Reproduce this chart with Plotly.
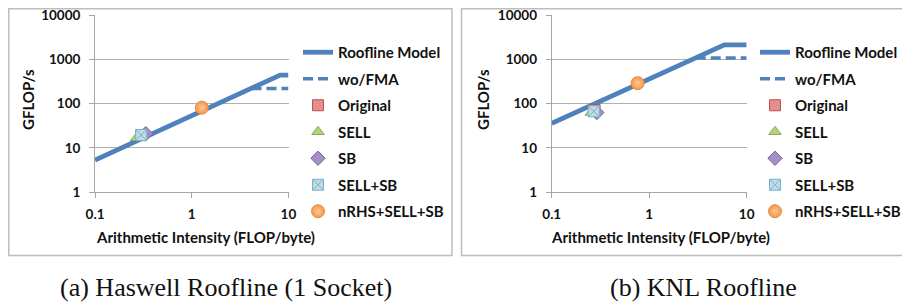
import plotly.graph_objects as go

# ---------------- data ----------------
# Haswell (1 socket)
hsw_roof_x = [0.1, 8.2, 10]
hsw_roof_y = [5.3, 440, 440]
hsw_nofma_x = [4.15, 10]
hsw_nofma_y = [220, 220]
hsw_orig = (0.30, 19.5)
hsw_sell = (0.27, 17)
hsw_sb = (0.335, 21)
hsw_sellsb = (0.30, 19.5)
hsw_nrhs = (1.27, 81)

# KNL
knl_roof_x = [0.1, 5.9, 10]
knl_roof_y = [36, 2130, 2130]
knl_nofma_x = [3.0, 10]
knl_nofma_y = [1070, 1070]
knl_orig = (0.275, 72)
knl_sell = (0.255, 63)
knl_sb = (0.29, 63)
knl_sellsb = (0.27, 67)
knl_nrhs = (0.76, 290)

series_names = ["Roofline Model", "wo/FMA", "Original", "SELL", "SB", "SELL+SB", "nRHS+SELL+SB"]
x_ticks = [0.1, 1, 10]
x_tick_text = ["0.1", "1", "10"]
y_ticks = [1, 10, 100, 1000, 10000]
y_tick_text = ["1", "10", "100", "1000", "10000"]
captions = ["(a) Haswell Roofline (1 Socket)", "(b) KNL Roofline"]
x_title = "Arithmetic Intensity (FLOP/byte)"
y_title = "GFLOP/s"

# ---------------- styles ----------------
# the page body has an 8px margin, so the figure is sized to fill the rest of the window
OFF = 8
W, H = 910 - OFF, 305 - OFF
BLUE = "#4f81bd"
FONT = "Lato"
marker_styles = {
    "Original": dict(symbol="square", color="#e3908d", line=dict(color="#c0504d", width=1)),
    "SELL": dict(symbol="triangle-up", color="#b5d07e", line=dict(color="#8cac4e", width=1)),
    "SB": dict(symbol="diamond", color="#a58fc4", line=dict(color="#7a5fa0", width=1)),
    "SELL+SB": dict(symbol="square-x", color="#c5d9e2", line=dict(color="#6fb7d0", width=1)),
    "nRHS+SELL+SB": dict(symbol="circle", color="#f79646",
                         gradient=dict(type="radial", color="#fbc99a"),
                         line=dict(color="#e38b3f", width=1)),
}

def px_x(p):
    return (p - OFF) / W

def px_y(p):
    return 1 - (p - OFF) / H

fig = go.Figure()

panels = [
    dict(roof=(hsw_roof_x, hsw_roof_y), nofma=(hsw_nofma_x, hsw_nofma_y),
         pts=[hsw_orig, hsw_sell, hsw_sb, hsw_sellsb, hsw_nrhs],
         xa="x", ya="y", legend="legend"),
    dict(roof=(knl_roof_x, knl_roof_y), nofma=(knl_nofma_x, knl_nofma_y),
         pts=[knl_orig, knl_sell, knl_sb, knl_sellsb, knl_nrhs],
         xa="x2", ya="y2", legend="legend2"),
]

for pi, p in enumerate(panels):
    fig.add_trace(go.Scatter(x=p["roof"][0], y=p["roof"][1], mode="lines",
                             line=dict(color=BLUE, width=4.8), name=series_names[0],
                             xaxis=p["xa"], yaxis=p["ya"], legend=p["legend"],
                             legendgroup=f"{pi}_0"))
    fig.add_trace(go.Scatter(x=p["nofma"][0], y=p["nofma"][1], mode="lines",
                             line=dict(color=BLUE, width=3.5, dash="10px,5px"), name=series_names[1],
                             xaxis=p["xa"], yaxis=p["ya"], legend=p["legend"],
                             legendgroup=f"{pi}_1"))
    for k, (pt, nm) in enumerate(zip(p["pts"], series_names[2:])):
        st = dict(marker_styles[nm])
        size = 13 if nm == "nRHS+SELL+SB" else 11
        fig.add_trace(go.Scatter(x=[pt[0]], y=[pt[1]], mode="markers",
                                 marker=dict(size=size, **st), name=nm,
                                 xaxis=p["xa"], yaxis=p["ya"], legend=p["legend"],
                                 legendgroup=f"{pi}_{k+2}"))

axis_common = dict(type="log", showline=True, linecolor="#a6a6a6", linewidth=1,
                   ticks="outside", ticklen=5, tickcolor="#a6a6a6",
                   tickfont=dict(family=FONT, size=13.5, color="#111", weight="bold"),
                   zeroline=False, automargin=False, ticklabeloverflow="allow")

# plot areas (pixel geometry in the window)
left_dom = [px_x(95), px_x(288.5)]
right_dom = [px_x(551.7), px_x(746.7)]
y_dom = [px_y(192.3), px_y(15)]
x_range = [-1.0005, 1.0005]
y_range = [-0.001, 4.001]

fig.update_layout(
    width=W, height=H, margin=dict(l=0, r=0, t=0, b=0, autoexpand=False),
    paper_bgcolor="white", plot_bgcolor="white",
    xaxis=dict(domain=left_dom, range=x_range, tickvals=x_ticks, ticktext=x_tick_text,
               showgrid=False, anchor="y", ticklabelstandoff=4, **axis_common),
    yaxis=dict(domain=y_dom, range=y_range, tickvals=y_ticks, ticktext=y_tick_text,
               showgrid=True, gridcolor="#b0b0b0", gridwidth=1, anchor="x",
               ticklabelstandoff=6, **axis_common),
    xaxis2=dict(domain=right_dom, range=x_range, tickvals=x_ticks, ticktext=x_tick_text,
                showgrid=False, anchor="y2", ticklabelstandoff=4, **axis_common),
    yaxis2=dict(domain=y_dom, range=y_range, tickvals=y_ticks, ticktext=y_tick_text,
                showgrid=True, gridcolor="#b0b0b0", gridwidth=1, anchor="x2",
                ticklabelstandoff=6, **axis_common),
    showlegend=True,
)

legend_common = dict(font=dict(family=FONT, size=15, color="#111", weight="bold"),
                     bgcolor="rgba(0,0,0,0)", tracegroupgap=4, itemwidth=30,
                     xanchor="left", yanchor="top", traceorder="grouped")
fig.update_layout(
    legend=dict(x=px_x(298), y=px_y(36), **legend_common),
    legend2=dict(x=px_x(755), y=px_y(36), **legend_common),
)

# frames around each panel
fig.add_shape(type="rect", xref="paper", yref="paper", x0=px_x(8.8), x1=px_x(452),
              y0=px_y(255.5), y1=px_y(8.8), line=dict(color="#bdbdbd", width=1.5))
fig.add_shape(type="rect", xref="paper", yref="paper", x0=px_x(461.5), x1=px_x(908),
              y0=px_y(255.5), y1=px_y(8.8), line=dict(color="#bdbdbd", width=1.5))

# axis titles
title_font = dict(family=FONT, size=15, color="#111", weight="bold")
for xc_title, xc_ytitle in [(205, 28), (660, 483)]:
    fig.add_annotation(text=x_title, xref="paper", yref="paper", x=px_x(xc_title), y=px_y(237),
                       showarrow=False, font=title_font, xanchor="center", yanchor="middle")
    fig.add_annotation(text=y_title, xref="paper", yref="paper", x=px_x(xc_ytitle), y=px_y(100),
                       showarrow=False, font=title_font, textangle=-90,
                       xanchor="center", yanchor="middle")

# captions
cap_font = dict(family="Liberation Serif", size=26, color="#111")
for cap, xc in zip(captions, [226, 703]):
    fig.add_annotation(text=cap, xref="paper", yref="paper", x=px_x(xc), y=px_y(287),
                       showarrow=False, font=cap_font, xanchor="center", yanchor="middle")

fig.write_html("out.html")
